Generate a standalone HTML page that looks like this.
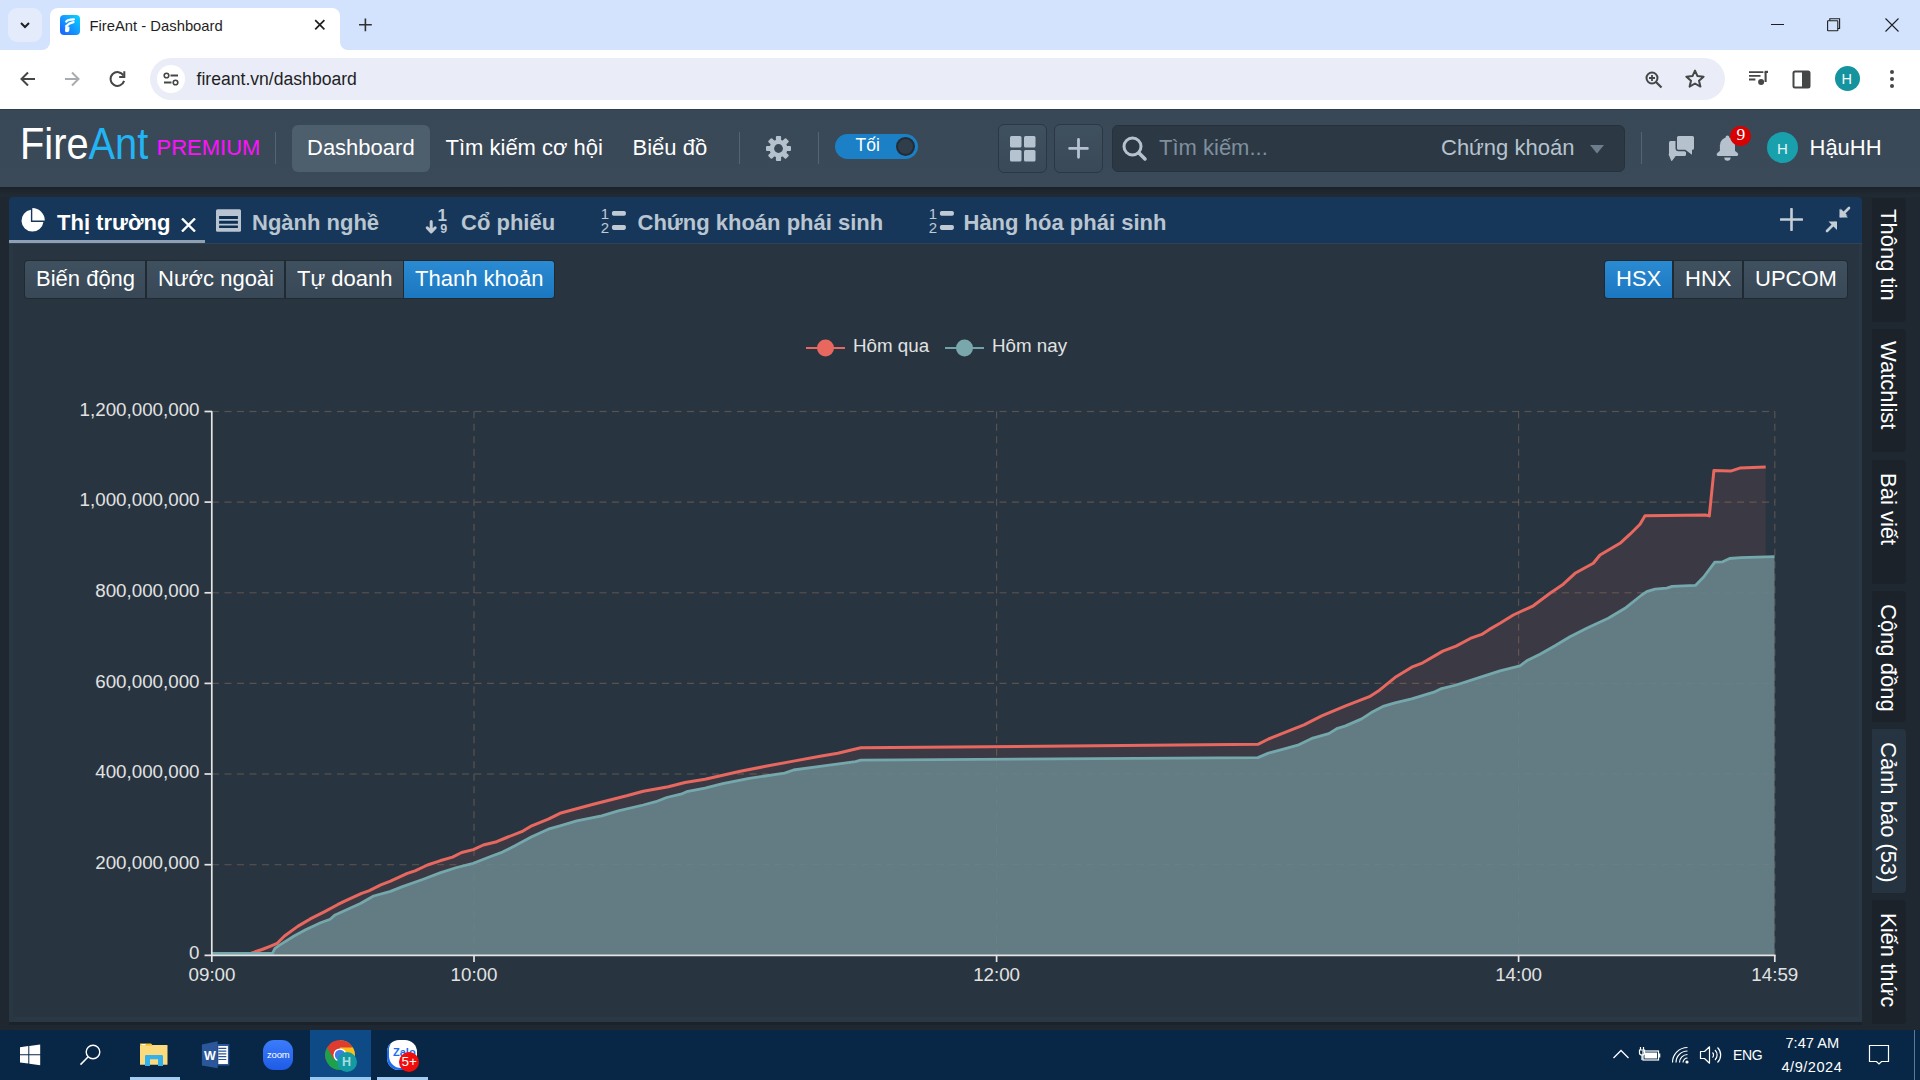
<!DOCTYPE html>
<html><head><meta charset="utf-8">
<style>
*{margin:0;padding:0;box-sizing:border-box}
html,body{width:1920px;height:1080px;overflow:hidden;background:#1f2830;font-family:"Liberation Sans",sans-serif}
.a{position:absolute}
.t{position:absolute;white-space:nowrap;line-height:1}
#tabstrip{left:0;top:0;width:1920px;height:50px;background:#d3e3fd}
#toolbar{left:0;top:50px;width:1920px;height:59px;background:#fff}
#hdr{left:0;top:109px;width:1920px;height:78px;background:linear-gradient(#394856,#3b4a58)}
#taskbar{left:0;top:1030px;width:1920px;height:50px;background:#082746}
</style></head><body>
<!-- ============ CHROME TAB STRIP ============ -->
<div id="tabstrip" class="a"></div>
<!-- active tab -->
<div class="a" style="left:50px;top:8px;width:290px;height:44px;background:#fff;border-radius:8px 8px 0 0"></div>
<div class="a" style="left:42px;top:42px;width:8px;height:8px;background:#fff"></div>
<div class="a" style="left:34px;top:34px;width:16px;height:16px;background:#d3e3fd;border-radius:0 0 8px 0"></div>
<div class="a" style="left:340px;top:42px;width:8px;height:8px;background:#fff"></div>
<div class="a" style="left:340px;top:34px;width:16px;height:16px;background:#d3e3fd;border-radius:0 0 0 8px"></div>
<div class="a" style="left:8px;top:8px;width:34px;height:34px;border-radius:9px;background:#e4ecfb"></div>
<svg class="a" style="left:17px;top:17px" width="16" height="16" viewBox="0 0 16 16"><path d="M4 6l4 4 4-4" fill="none" stroke="#1f1f1f" stroke-width="2"/></svg>
<!-- favicon -->
<div class="a" style="left:60px;top:15px;width:20px;height:20px;border-radius:4px;background:linear-gradient(45deg,#1a6dff 15%,#12a6ff 60%,#05d6ff)"></div>
<svg class="a" style="left:60px;top:15px" width="20" height="20" viewBox="0 0 20 20"><g fill="none" stroke="#fff" stroke-linecap="round" stroke-width="2.1"><path d="M6.2,6.6 Q7.5,4.6 14,4.4"/><path d="M6.4,11 Q9,7.9 13.6,7.1"/><path d="M6.4,11 L6.1,15.9 Q7.2,16.4 8.2,15.5 L8.4,12.6"/></g></svg>
<div class="t" style="left:89.5px;top:19px;font-size:14.8px;color:#1f1f1f">FireAnt - Dashboard</div>
<svg class="a" style="left:313px;top:18px" width="14" height="14" viewBox="0 0 14 14"><path d="M2.2 2.2L11.4 11.4M11.4 2.2L2.2 11.4" stroke="#1f1f1f" stroke-width="1.7"/></svg>
<svg class="a" style="left:357px;top:17px" width="16" height="16" viewBox="0 0 16 16"><path d="M8.4 1.5V14.2M2 7.8H14.8" stroke="#303030" stroke-width="1.6"/></svg>
<!-- window controls -->
<div class="a" style="left:1771px;top:24px;width:13px;height:1px;background:#1f1f1f"></div>
<svg class="a" style="left:1825px;top:16px" width="16" height="16" viewBox="0 0 16 16"><rect x="2.6" y="4.8" width="10.2" height="10" rx="0.5" fill="none" stroke="#1f1f1f" stroke-width="1.1"/><path d="M4.8 4.8V2.7H14.6V12.5H12.8" fill="none" stroke="#1f1f1f" stroke-width="1.1"/></svg>
<svg class="a" style="left:1884.5px;top:17.7px" width="14" height="14" viewBox="0 0 14 14"><path d="M0.5 0.5L13.5 13.5M13.5 0.5L0.5 13.5" stroke="#1f1f1f" stroke-width="1.1"/></svg>

<!-- ============ CHROME TOOLBAR ============ -->
<div id="toolbar" class="a"></div>
<svg class="a" style="left:19px;top:70px" width="18" height="18" viewBox="0 0 18 18"><path d="M16 9H3M9 2.5L2.5 9L9 15.5" fill="none" stroke="#444746" stroke-width="2"/></svg>
<svg class="a" style="left:63px;top:70px" width="18" height="18" viewBox="0 0 18 18"><path d="M2 9H15M9 2.5L15.5 9L9 15.5" fill="none" stroke="#a9acaf" stroke-width="2"/></svg>
<svg class="a" style="left:108px;top:70px" width="18" height="18" viewBox="0 0 18 18"><path d="M16.1,10.9 A6.9,6.9 0 1 1 15.5,5.6" fill="none" stroke="#444746" stroke-width="2"/><path d="M16.3,1.3V6.9H11.2" fill="none" stroke="#444746" stroke-width="2"/></svg>
<div class="a" style="left:150px;top:58px;width:1575px;height:42px;border-radius:21px;background:#eaedf8"></div>
<div class="a" style="left:157px;top:65px;width:28px;height:28px;border-radius:14px;background:#fff"></div>
<svg class="a" style="left:163px;top:71px" width="16" height="16" viewBox="0 0 16 16"><circle cx="3.5" cy="4.5" r="2.3" fill="none" stroke="#444746" stroke-width="1.6"/><path d="M7.5 4.5H15" stroke="#444746" stroke-width="2"/><circle cx="12.5" cy="11.5" r="2.3" fill="none" stroke="#444746" stroke-width="1.6"/><path d="M1 11.5H8.5" stroke="#444746" stroke-width="2"/></svg>
<div class="t" style="left:196.5px;top:71.3px;font-size:17.6px;color:#1f1f1f">fireant.vn/dashboard</div>
<svg class="a" style="left:1644px;top:69.5px" width="20" height="20" viewBox="0 0 20 20"><circle cx="8" cy="8" r="5.5" fill="none" stroke="#444746" stroke-width="2"/><path d="M12 12L17.5 17.5" stroke="#444746" stroke-width="2.2"/><path d="M8 5V11M5 8H11" stroke="#444746" stroke-width="1.8"/></svg>
<svg class="a" style="left:1685px;top:69px" width="20" height="20" viewBox="0 0 20 20"><path d="M10 1.6L12.5 7.1L18.6 7.7L14 11.7L15.4 17.6L10 14.5L4.6 17.6L6 11.7L1.4 7.7L7.5 7.1Z" fill="none" stroke="#444746" stroke-width="2" stroke-linejoin="round"/></svg>
<svg class="a" style="left:1748px;top:70px" width="21" height="16" viewBox="0 0 21 16"><path d="M1 2.1H15.4M1 5.9H12.5M1 9.5H7.4" stroke="#444746" stroke-width="1.9"/><path d="M17.6 2V12" stroke="#444746" stroke-width="2.1"/><path d="M16.6 1.9H20" stroke="#444746" stroke-width="2.2"/><circle cx="13.1" cy="12" r="3" fill="#444746"/></svg>
<svg class="a" style="left:1792px;top:70px" width="20" height="20" viewBox="0 0 20 20"><rect x="1.5" y="1.5" width="16" height="16" rx="1.5" fill="none" stroke="#444746" stroke-width="2"/><rect x="10" y="1.5" width="7.5" height="16" fill="#444746"/></svg>
<div class="a" style="left:1835px;top:66px;width:25px;height:25px;border-radius:50%;background:#15939f"></div>
<div class="t" style="left:1841.5px;top:71.5px;font-size:14.5px;color:#f4fbfc">H</div>
<svg class="a" style="left:1888px;top:69px" width="8" height="20" viewBox="0 0 8 20"><circle cx="4" cy="3" r="2" fill="#444746"/><circle cx="4" cy="10" r="2" fill="#444746"/><circle cx="4" cy="17" r="2" fill="#444746"/></svg>

<!-- ============ APP HEADER ============ -->
<div id="hdr" class="a"></div>
<div class="a" style="left:0;top:109px;width:1920px;height:1px;background:#303d4a"></div>
<div class="a" style="left:0;top:187px;width:1920px;height:10px;background:linear-gradient(#1b2229,#222b34)"></div>
<div class="t" style="left:20px;top:122.8px;font-size:43.5px;color:#fff;transform-origin:0 0;transform:scaleX(0.915)">Fire<span style="color:#22b5f6">Ant</span></div>
<div class="t" style="left:156.5px;top:136.6px;font-size:22px;color:#ff10ff">PREMIUM</div>
<div class="a" style="left:275px;top:132px;width:1px;height:32px;background:#56646f"></div>
<div class="a" style="left:292px;top:125px;width:138px;height:47px;border-radius:6px;background:#4d5e6d"></div>
<div class="t" style="left:307px;top:136.7px;font-size:22px;color:#fff">Dashboard</div>
<div class="t" style="left:445.5px;top:136.7px;font-size:22px;color:#fff">Tìm kiếm cơ hội</div>
<div class="t" style="left:632.5px;top:136.7px;font-size:22px;color:#fff">Biểu đồ</div>
<div class="a" style="left:739px;top:132px;width:1px;height:32px;background:#56646f"></div>
<svg class="a" style="left:765px;top:135px" width="27" height="27" viewBox="-13.5 -13.5 27 27"><g fill="#b5c1cc"><circle r="9"/><rect x="-2.6" y="-12.5" width="5.2" height="6" rx="1" transform="rotate(0)"/><rect x="-2.6" y="-12.5" width="5.2" height="6" rx="1" transform="rotate(45)"/><rect x="-2.6" y="-12.5" width="5.2" height="6" rx="1" transform="rotate(90)"/><rect x="-2.6" y="-12.5" width="5.2" height="6" rx="1" transform="rotate(135)"/><rect x="-2.6" y="-12.5" width="5.2" height="6" rx="1" transform="rotate(180)"/><rect x="-2.6" y="-12.5" width="5.2" height="6" rx="1" transform="rotate(225)"/><rect x="-2.6" y="-12.5" width="5.2" height="6" rx="1" transform="rotate(270)"/><rect x="-2.6" y="-12.5" width="5.2" height="6" rx="1" transform="rotate(315)"/></g><circle r="4.4" fill="#394856"/></svg>
<div class="a" style="left:818px;top:132px;width:1px;height:32px;background:#56646f"></div>
<div class="a" style="left:835px;top:134px;width:83px;height:25px;border-radius:13px;background:#1b80c6"></div>
<div class="t" style="left:855.5px;top:137px;font-size:17.5px;color:#fff">Tối</div>
<div class="a" style="left:896px;top:137px;width:19px;height:19px;border-radius:50%;background:#303d4a;border:2px solid #222c35"></div>
<!-- grid & plus buttons -->
<div class="a" style="left:998px;top:124px;width:49px;height:49px;border-radius:6px;background:linear-gradient(#3f505f,#3a4957);border:1px solid #2b3743"></div>
<svg class="a" style="left:1010px;top:136px" width="26" height="26" viewBox="0 0 26 26"><g fill="#b5c3d0"><rect x="0" y="0" width="11.5" height="11.5" rx="1.5"/><rect x="14" y="0" width="11.5" height="11.5" rx="1.5"/><rect x="0" y="14" width="11.5" height="11.5" rx="1.5"/><rect x="14" y="14" width="11.5" height="11.5" rx="1.5"/></g></svg>
<div class="a" style="left:1054px;top:124px;width:49px;height:49px;border-radius:6px;background:linear-gradient(#3f505f,#3a4957);border:1px solid #2b3743"></div>
<svg class="a" style="left:1068px;top:138px" width="21" height="21" viewBox="0 0 21 21"><path d="M10.5 1.5V19.3M1.6 10.4H19.4" stroke="#b5c3d0" stroke-width="2.8" stroke-linecap="round"/></svg>
<!-- search -->
<div class="a" style="left:1112px;top:125px;width:513px;height:47px;border-radius:6px;background:#2c3944;border:1px solid #26313b"></div>
<svg class="a" style="left:1120px;top:134px" width="30" height="30" viewBox="0 0 30 30"><circle cx="12.5" cy="12.5" r="8.5" fill="none" stroke="#b5c3d0" stroke-width="3"/><path d="M19 19L25 25" stroke="#b5c3d0" stroke-width="3.5" stroke-linecap="round"/></svg>
<div class="t" style="left:1159px;top:136.5px;font-size:22px;color:#7f8f9e">Tìm kiếm...</div>
<div class="t" style="left:1441px;top:136.5px;font-size:22px;color:#b6c3cf">Chứng khoán</div>
<svg class="a" style="left:1590px;top:145px" width="15" height="9" viewBox="0 0 15 9"><path d="M0 0H14L7 8.5Z" fill="#6c7d8c"/></svg>
<div class="a" style="left:1641px;top:132px;width:1px;height:32px;background:#56646f"></div>
<!-- comments icon -->
<svg class="a" style="left:1664px;top:130px" width="36" height="36" viewBox="0 0 36 36"><rect x="5" y="11" width="17" height="15" rx="1.5" fill="#b5c1cc"/><path d="M5,24 L7.7,30.7 L12.7,24 Z" fill="#b5c1cc" stroke="#b5c1cc" stroke-width="1" stroke-linejoin="round"/><path d="M14.5,6 H28.5 Q30,6 30,7.5 V18.2 Q30,19.7 28.5,19.7 H28 V24.7 L21.3,19.7 H14.5 Q13,19.7 13,18.2 V7.5 Q13,6 14.5,6 Z" fill="#b5c1cc" stroke="#394856" stroke-width="3" paint-order="stroke" stroke-linejoin="round"/></svg>
<!-- bell -->
<svg class="a" style="left:1714px;top:134px" width="26" height="28" viewBox="0 0 26 28"><g fill="#b5c1cc"><circle cx="13.45" cy="3.4" r="1.9"/><path d="M5.9,18 V11.2 A7.55,7.6 0 0 1 21,11.2 V18 Z"/><path d="M6,16.8 L3,19.3 H23.9 L20.9,16.8 Z"/><rect x="2.7" y="18.9" width="21.5" height="3" rx="1.3"/><path d="M10.3,23.4 H16.6 A3.15,3.3 0 0 1 10.3,23.4 Z"/></g></svg>
<div class="a" style="left:1730.3px;top:125.6px;width:20.6px;height:20.6px;border-radius:50%;background:#d80000"></div>
<div class="t" style="left:1736.6px;top:126.3px;font-size:17.5px;color:#fff;font-family:'Liberation Serif',serif">9</div>
<!-- avatar -->
<div class="a" style="left:1767px;top:132px;width:31px;height:31px;border-radius:50%;background:#18a0ad"></div>
<div class="t" style="left:1777px;top:141px;font-size:15px;color:#e8f4f6">H</div>
<div class="t" style="left:1809.5px;top:136.7px;font-size:22px;color:#fff">HậuHH</div>

<!-- ============ TABS PANEL ============ -->
<div class="a" style="left:9px;top:197px;width:1853px;height:47px;border-radius:4px 4px 0 0;background:#16375a"></div>
<div class="a" style="left:9px;top:240px;width:196px;height:3px;background:#8fa1b1"></div>
<svg class="a" style="left:21px;top:208px;overflow:visible" width="24" height="24" viewBox="0 0 24 24"><path d="M9.9,14 H22.41 A11,11 0 1 1 9.9,1.72 Z" fill="#fff"/><path d="M11.3,12.5 V0 A12.5,12.5 0 0 1 23.8,12.5 Z" fill="#fff"/></svg>
<div class="t" style="left:57px;top:211.5px;font-size:22px;font-weight:bold;color:#fff">Thị trường</div>
<svg class="a" style="left:181px;top:218px" width="15" height="14" viewBox="0 0 15 14"><path d="M1 0.5L14 13.5M14 0.5L1 13.5" stroke="#fff" stroke-width="2.4"/></svg>
<svg class="a" style="left:216px;top:209px" width="25" height="23" viewBox="0 0 25 23"><rect x="0" y="0.3" width="25" height="22.4" rx="1.5" fill="#b8c4d0"/><path d="M3.1 7h18.8v2.9H3.1zM3.1 11.8h18.8v2.9H3.1zM3.1 16.4h18.8v2.7H3.1z" fill="#0e2f52"/></svg>
<div class="t" style="left:252px;top:211.5px;font-size:22px;font-weight:bold;color:#b9c5d1">Ngành nghề</div>
<svg class="a" style="left:424px;top:205px" width="26" height="30" viewBox="0 0 26 30"><path d="M7.2 16.5V26.5M3.2 22.8L7.2 27L11.2 22.8" fill="none" stroke="#c0cad4" stroke-width="3" stroke-linecap="round" stroke-linejoin="round"/><text x="18.3" y="15.7" style="font:bold 17px 'Liberation Sans'" fill="#c0cad4" text-anchor="middle">1</text><text x="19.8" y="27.8" style="font:bold 12.5px 'Liberation Sans'" fill="#c0cad4" text-anchor="middle">9</text></svg>
<div class="t" style="left:461px;top:211.5px;font-size:22px;font-weight:bold;color:#b9c5d1">Cổ phiếu</div>
<svg class="a" style="left:600px;top:207px" width="27" height="28" viewBox="0 0 27 28"><text x="5" y="11.9" style="font:15px 'Liberation Sans'" fill="#c0cad4" text-anchor="middle">1</text><text x="5" y="26" style="font:15px 'Liberation Sans'" fill="#c0cad4" text-anchor="middle">2</text><rect x="11.9" y="3.9" width="14" height="4.9" rx="1.8" fill="#c0cad4"/><rect x="11.9" y="18" width="14" height="4.9" rx="1.8" fill="#c0cad4"/></svg>
<div class="t" style="left:637.5px;top:211.5px;font-size:22px;font-weight:bold;color:#b9c5d1">Chứng khoán phái sinh</div>
<svg class="a" style="left:927.5px;top:207px" width="27" height="28" viewBox="0 0 27 28"><text x="5" y="11.9" style="font:15px 'Liberation Sans'" fill="#c0cad4" text-anchor="middle">1</text><text x="5" y="26" style="font:15px 'Liberation Sans'" fill="#c0cad4" text-anchor="middle">2</text><rect x="11.9" y="3.9" width="14" height="4.9" rx="1.8" fill="#c0cad4"/><rect x="11.9" y="18" width="14" height="4.9" rx="1.8" fill="#c0cad4"/></svg>
<div class="t" style="left:963.5px;top:211.5px;font-size:22px;font-weight:bold;color:#b9c5d1">Hàng hóa phái sinh</div>
<svg class="a" style="left:1780px;top:208px" width="23" height="23" viewBox="0 0 23 23"><path d="M11.5 1V22M1 11.5H22" stroke="#c5ced7" stroke-width="2.6" stroke-linecap="round"/></svg>
<svg class="a" style="left:1825px;top:206px" width="27" height="27" viewBox="0 0 27 27"><g fill="none" stroke="#c5ced7" stroke-width="2.6" stroke-linecap="round"><path d="M24 2L16 10M10 17L2 25"/></g><g fill="#c5ced7"><path d="M10 8.5V15.5H17Z" transform="translate(5.5,-6)"/></g><path d="M14.5 3L14.5 11.5L23 11.5Z" fill="#c5ced7" transform="rotate(0)"/><path d="M3.5 15.5H12V24Z" fill="#c5ced7"/></svg>

<!-- ============ CONTENT PANEL ============ -->
<div class="a" style="left:9px;top:243px;width:1853px;height:1px;background:#2f4256"></div>
<div class="a" style="left:9px;top:244px;width:1853px;height:778px;background:#283541;border-left:4px solid #293744;border-right:3px solid #2a3845;border-bottom:5px solid #2a3744"></div>
<div class="a" style="left:9px;top:1022px;width:1853px;height:3px;background:#1b2229"></div>
<!-- sub buttons -->
<div class="a" style="left:24px;top:260px;width:531px;height:39px;border-radius:4px;background:#202a33"></div>
<div class="a" style="left:25px;top:261px;width:120px;height:37px;border-radius:3px 0 0 3px;background:linear-gradient(#3f505f,#394856)"></div>
<div class="a" style="left:147px;top:261px;width:137px;height:37px;background:linear-gradient(#3f505f,#394856)"></div>
<div class="a" style="left:286px;top:261px;width:117px;height:37px;background:linear-gradient(#3f505f,#394856)"></div>
<div class="a" style="left:404px;top:261px;width:150px;height:37px;border-radius:0 3px 3px 0;background:linear-gradient(#2a8ad2,#1b77c0)"></div>
<div class="t" style="left:36px;top:268px;font-size:22px;color:#fff">Biến động</div>
<div class="t" style="left:158px;top:268px;font-size:22px;color:#fff">Nước ngoài</div>
<div class="t" style="left:297px;top:268px;font-size:22px;color:#fff">Tự doanh</div>
<div class="t" style="left:415px;top:268px;font-size:22px;color:#fff">Thanh khoản</div>

<div class="a" style="left:1604px;top:260px;width:244px;height:39px;border-radius:4px;background:#202a33"></div>
<div class="a" style="left:1605px;top:261px;width:67px;height:37px;border-radius:3px 0 0 3px;background:linear-gradient(#2a8ad2,#1b77c0)"></div>
<div class="a" style="left:1674px;top:261px;width:68px;height:37px;background:linear-gradient(#3f505f,#394856)"></div>
<div class="a" style="left:1744px;top:261px;width:103px;height:37px;border-radius:0 3px 3px 0;background:linear-gradient(#3f505f,#394856)"></div>
<div class="t" style="left:1616px;top:268px;font-size:22px;color:#fff">HSX</div>
<div class="t" style="left:1685px;top:268px;font-size:22px;color:#fff">HNX</div>
<div class="t" style="left:1755px;top:268px;font-size:22px;color:#fff">UPCOM</div>

<!-- CHART -->
<svg id="chart" class="a" style="left:0;top:0" width="1920" height="1080" viewBox="0 0 1920 1080">
<style>.al{font:18.75px "Liberation Sans",sans-serif;fill:#e2e2e2}.lg{font:18.75px "Liberation Sans",sans-serif;fill:#e2e2e2}</style>
<path d="M212,411.5H1775" stroke="#b07440" stroke-opacity="0.32" stroke-width="1.1" stroke-dasharray="7,5.5" fill="none"/>
<path d="M212,502.1H1775" stroke="#b07440" stroke-opacity="0.32" stroke-width="1.1" stroke-dasharray="7,5.5" fill="none"/>
<path d="M212,592.8H1775" stroke="#b07440" stroke-opacity="0.32" stroke-width="1.1" stroke-dasharray="7,5.5" fill="none"/>
<path d="M212,683.4H1775" stroke="#b07440" stroke-opacity="0.32" stroke-width="1.1" stroke-dasharray="7,5.5" fill="none"/>
<path d="M212,774.0H1775" stroke="#b07440" stroke-opacity="0.32" stroke-width="1.1" stroke-dasharray="7,5.5" fill="none"/>
<path d="M212,864.7H1775" stroke="#b07440" stroke-opacity="0.32" stroke-width="1.1" stroke-dasharray="7,5.5" fill="none"/>
<path d="M474,411.3V955" stroke="#b07440" stroke-opacity="0.32" stroke-width="1.1" stroke-dasharray="7,5.5" fill="none"/>
<path d="M996.6,411.3V955" stroke="#b07440" stroke-opacity="0.32" stroke-width="1.1" stroke-dasharray="7,5.5" fill="none"/>
<path d="M1518.6,411.3V955" stroke="#b07440" stroke-opacity="0.32" stroke-width="1.1" stroke-dasharray="7,5.5" fill="none"/>
<path d="M1774.8,411.3V955" stroke="#b07440" stroke-opacity="0.32" stroke-width="1.1" stroke-dasharray="7,5.5" fill="none"/>
<path d="M212,953.3 L250.6,953.3 L262,949.5 L270,946.3 L277.2,943.3 L284.5,936 L297.7,926.4 L309.8,919.2 L324.2,911.9 L337.5,904.7 L344.7,901.1 L361.6,893.3 L368.8,890.8 L380.8,884.8 L390.5,881.2 L407.3,873.4 L415,870.8 L427.5,865 L440,860.8 L452.5,857.1 L461.7,852.5 L473.3,849.6 L483.3,845 L496.7,841.7 L506.7,837.5 L521.7,831.7 L531.7,825.8 L548.3,819.2 L560,813.3 L593.3,804.2 L626.7,795.8 L643.3,791.2 L668.3,786.7 L685,782.5 L705,779.3 L740.4,771.3 L767,766 L793.5,761.1 L820.1,756.2 L837.8,753.2 L860.8,747.8 L1257.9,744.3 L1268.5,739 L1295.1,728.3 L1304,724.8 L1321.7,715.9 L1345,706.1 L1369.4,696.7 L1378.3,691.1 L1396.1,676.7 L1411.7,667.2 L1422.8,662.8 L1442.8,651.1 L1456.1,646.1 L1471.7,637.8 L1481.7,634.4 L1489.4,629.4 L1500,623.3 L1513.3,615 L1533.3,605.8 L1550,593.3 L1563.3,584.2 L1575,573.3 L1593.3,563.3 L1600,555 L1620,543.3 L1630,534.2 L1640,524.2 L1645,515.8 L1705.6,515 L1709.3,515.9 L1713.9,470.6 L1730.6,471.1 L1739.8,468.1 L1765.7,466.9 L1765.7,955 L212,955 Z" fill="#e8675e" fill-opacity="0.1"/>
<path d="M212,953.3 L272.5,953.3 L274.8,948.7 L279.6,945.1 L294.1,936 L306.1,929.4 L320.6,922.8 L330.2,919.2 L335.1,914.9 L348.3,908.9 L360.4,903.5 L373.6,896 L390.5,891.4 L402.5,886.6 L423.3,879.2 L440,872.9 L456.7,867.5 L473.3,863.3 L490,856.7 L502.5,852.1 L515,845.8 L531.7,836.7 L548.3,829.2 L560,825.8 L576.7,820.8 L601.7,815.8 L618.3,810.8 L643.3,805 L655.8,801.7 L666.7,797.5 L680.8,794.2 L686.7,791.7 L705,788.1 L722.7,783.7 L749.3,778.4 L784.7,773.1 L793.5,770 L820.1,766.4 L855.5,761.6 L860.8,760.2 L1257.9,757.6 L1268.5,753.1 L1286.2,748.3 L1297.8,745.2 L1312.8,738.1 L1328.8,733.6 L1337.6,728.3 L1345,726.1 L1361.7,718.9 L1372.8,711.7 L1383.9,706.1 L1395,702.8 L1411.7,698.9 L1433.9,692.2 L1440.6,688.9 L1456.1,685 L1478.3,677.8 L1500,670.8 L1520,665.8 L1526.7,660.8 L1540,654.2 L1555,645.8 L1570,636.7 L1586.7,628.3 L1608.3,618.3 L1625,608.3 L1641.7,595 L1646.7,591.7 L1655,589.2 L1666.7,588.1 L1672.2,586.3 L1695.4,585.4 L1703.7,577 L1714.8,562.2 L1722.2,561.9 L1729.6,558.5 L1740.7,557.6 L1774.5,556.7 L1774.5,955 L212,955 Z" fill="#637b82"/>
<path d="M212,411.5H1775" stroke="#8aa0a5" stroke-opacity="0.12" stroke-width="1.3" stroke-dasharray="7,5.5" fill="none"/>
<path d="M212,502.1H1775" stroke="#8aa0a5" stroke-opacity="0.12" stroke-width="1.3" stroke-dasharray="7,5.5" fill="none"/>
<path d="M212,592.8H1775" stroke="#8aa0a5" stroke-opacity="0.12" stroke-width="1.3" stroke-dasharray="7,5.5" fill="none"/>
<path d="M212,683.4H1775" stroke="#8aa0a5" stroke-opacity="0.12" stroke-width="1.3" stroke-dasharray="7,5.5" fill="none"/>
<path d="M212,774.0H1775" stroke="#8aa0a5" stroke-opacity="0.12" stroke-width="1.3" stroke-dasharray="7,5.5" fill="none"/>
<path d="M212,864.7H1775" stroke="#8aa0a5" stroke-opacity="0.12" stroke-width="1.3" stroke-dasharray="7,5.5" fill="none"/>
<path d="M474,411.3V955" stroke="#8aa0a5" stroke-opacity="0.12" stroke-width="1.3" stroke-dasharray="7,5.5" fill="none"/>
<path d="M996.6,411.3V955" stroke="#8aa0a5" stroke-opacity="0.12" stroke-width="1.3" stroke-dasharray="7,5.5" fill="none"/>
<path d="M1518.6,411.3V955" stroke="#8aa0a5" stroke-opacity="0.12" stroke-width="1.3" stroke-dasharray="7,5.5" fill="none"/>
<path d="M1774.8,411.3V955" stroke="#8aa0a5" stroke-opacity="0.12" stroke-width="1.3" stroke-dasharray="7,5.5" fill="none"/>
<path d="M250.6,953.3 L262,949.5 L270,946.3 L277.2,943.3 L284.5,936 L297.7,926.4 L309.8,919.2 L324.2,911.9 L337.5,904.7 L344.7,901.1 L361.6,893.3 L368.8,890.8 L380.8,884.8 L390.5,881.2 L407.3,873.4 L415,870.8 L427.5,865 L440,860.8 L452.5,857.1 L461.7,852.5 L473.3,849.6 L483.3,845 L496.7,841.7 L506.7,837.5 L521.7,831.7 L531.7,825.8 L548.3,819.2 L560,813.3 L593.3,804.2 L626.7,795.8 L643.3,791.2 L668.3,786.7 L685,782.5 L705,779.3 L740.4,771.3 L767,766 L793.5,761.1 L820.1,756.2 L837.8,753.2 L860.8,747.8 L1257.9,744.3 L1268.5,739 L1295.1,728.3 L1304,724.8 L1321.7,715.9 L1345,706.1 L1369.4,696.7 L1378.3,691.1 L1396.1,676.7 L1411.7,667.2 L1422.8,662.8 L1442.8,651.1 L1456.1,646.1 L1471.7,637.8 L1481.7,634.4 L1489.4,629.4 L1500,623.3 L1513.3,615 L1533.3,605.8 L1550,593.3 L1563.3,584.2 L1575,573.3 L1593.3,563.3 L1600,555 L1620,543.3 L1630,534.2 L1640,524.2 L1645,515.8 L1705.6,515 L1709.3,515.9 L1713.9,470.6 L1730.6,471.1 L1739.8,468.1 L1765.7,466.9" fill="none" stroke="#e8685f" stroke-width="3" stroke-linejoin="round"/>
<path d="M212,953.3 L272.5,953.3 L274.8,948.7 L279.6,945.1 L294.1,936 L306.1,929.4 L320.6,922.8 L330.2,919.2 L335.1,914.9 L348.3,908.9 L360.4,903.5 L373.6,896 L390.5,891.4 L402.5,886.6 L423.3,879.2 L440,872.9 L456.7,867.5 L473.3,863.3 L490,856.7 L502.5,852.1 L515,845.8 L531.7,836.7 L548.3,829.2 L560,825.8 L576.7,820.8 L601.7,815.8 L618.3,810.8 L643.3,805 L655.8,801.7 L666.7,797.5 L680.8,794.2 L686.7,791.7 L705,788.1 L722.7,783.7 L749.3,778.4 L784.7,773.1 L793.5,770 L820.1,766.4 L855.5,761.6 L860.8,760.2 L1257.9,757.6 L1268.5,753.1 L1286.2,748.3 L1297.8,745.2 L1312.8,738.1 L1328.8,733.6 L1337.6,728.3 L1345,726.1 L1361.7,718.9 L1372.8,711.7 L1383.9,706.1 L1395,702.8 L1411.7,698.9 L1433.9,692.2 L1440.6,688.9 L1456.1,685 L1478.3,677.8 L1500,670.8 L1520,665.8 L1526.7,660.8 L1540,654.2 L1555,645.8 L1570,636.7 L1586.7,628.3 L1608.3,618.3 L1625,608.3 L1641.7,595 L1646.7,591.7 L1655,589.2 L1666.7,588.1 L1672.2,586.3 L1695.4,585.4 L1703.7,577 L1714.8,562.2 L1722.2,561.9 L1729.6,558.5 L1740.7,557.6 L1774.5,556.7" fill="none" stroke="#74a8ac" stroke-width="2.8" stroke-linejoin="round"/>
<path d="M211.8,411.3V962 M204.5,955.3H1775.5" stroke="#e4e4e4" stroke-width="1.7" fill="none"/>
<path d="M204.5,411.5H212" stroke="#e4e4e4" stroke-width="1.7"/>
<path d="M204.5,502.1H212" stroke="#e4e4e4" stroke-width="1.7"/>
<path d="M204.5,592.8H212" stroke="#e4e4e4" stroke-width="1.7"/>
<path d="M204.5,683.4H212" stroke="#e4e4e4" stroke-width="1.7"/>
<path d="M204.5,774.0H212" stroke="#e4e4e4" stroke-width="1.7"/>
<path d="M204.5,864.7H212" stroke="#e4e4e4" stroke-width="1.7"/>
<path d="M474,955V962" stroke="#e4e4e4" stroke-width="1.7"/>
<path d="M996.6,955V962" stroke="#e4e4e4" stroke-width="1.7"/>
<path d="M1518.6,955V962" stroke="#e4e4e4" stroke-width="1.7"/>
<path d="M1774.8,955V962" stroke="#e4e4e4" stroke-width="1.7"/>
<text x="199.5" y="415.7" text-anchor="end" class="al">1,200,000,000</text>
<text x="199.5" y="506.3" text-anchor="end" class="al">1,000,000,000</text>
<text x="199.5" y="597.0" text-anchor="end" class="al">800,000,000</text>
<text x="199.5" y="687.6" text-anchor="end" class="al">600,000,000</text>
<text x="199.5" y="778.2" text-anchor="end" class="al">400,000,000</text>
<text x="199.5" y="868.9" text-anchor="end" class="al">200,000,000</text>
<text x="199.5" y="958.9" text-anchor="end" class="al">0</text>
<text x="212" y="980.5" text-anchor="middle" class="al">09:00</text>
<text x="474" y="980.5" text-anchor="middle" class="al">10:00</text>
<text x="996.6" y="980.5" text-anchor="middle" class="al">12:00</text>
<text x="1518.6" y="980.5" text-anchor="middle" class="al">14:00</text>
<text x="1774.8" y="980.5" text-anchor="middle" class="al">14:59</text>
<path d="M806,348H845" stroke="#e8685f" stroke-width="2.2"/><circle cx="825.5" cy="348" r="8.5" fill="#e8685f"/>
<text x="853" y="352.3" class="lg">Hôm qua</text>
<path d="M945,348H984" stroke="#70a3a8" stroke-width="2.2"/><circle cx="964.5" cy="348" r="8.5" fill="#7aa7ab"/>
<text x="992" y="352.3" class="lg">Hôm nay</text>
</svg>

<!-- ============ RIGHT SIDEBAR ============ -->
<div class="a" style="left:1872px;top:198px;width:34px;height:124px;border-radius:0 4px 4px 0;background:#1b2229"></div>
<div class="a" style="left:1872px;top:329px;width:34px;height:123px;border-radius:0 4px 4px 0;background:#1b2229"></div>
<div class="a" style="left:1872px;top:460px;width:34px;height:124px;border-radius:0 4px 4px 0;background:#1b2229"></div>
<div class="a" style="left:1872px;top:591px;width:34px;height:131px;border-radius:0 4px 4px 0;background:#1b2229"></div>
<div class="a" style="left:1872px;top:729px;width:34px;height:164px;border-radius:0 4px 4px 0;background:#263340"></div>
<div class="a" style="left:1872px;top:900px;width:34px;height:124px;border-radius:0 4px 4px 0;background:#1b2229"></div>
<div class="t" style="left:1877px;top:209px;font-size:22px;color:#fff;transform-origin:0 0;transform:translate(22px,0) rotate(90deg)">Thông tin</div>
<div class="t" style="left:1877px;top:341px;font-size:22px;color:#fff;transform-origin:0 0;transform:translate(22px,0) rotate(90deg)">Watchlist</div>
<div class="t" style="left:1877px;top:473px;font-size:22px;color:#fff;transform-origin:0 0;transform:translate(22px,0) rotate(90deg)">Bài viết</div>
<div class="t" style="left:1877px;top:604px;font-size:22px;color:#fff;transform-origin:0 0;transform:translate(22px,0) rotate(90deg)">Cộng đồng</div>
<div class="t" style="left:1877px;top:742px;font-size:22px;color:#fff;transform-origin:0 0;transform:translate(22px,0) rotate(90deg)">Cảnh báo (53)</div>
<div class="t" style="left:1877px;top:913px;font-size:22px;color:#fff;transform-origin:0 0;transform:translate(22px,0) rotate(90deg)">Kiến thức</div>

<!-- ============ TASKBAR ============ -->
<div id="taskbar" class="a"></div>
<!-- start -->
<svg class="a" style="left:19px;top:1044px" width="22" height="22" viewBox="0 0 22 22"><g fill="#fff"><path d="M1 3.2L9.3 2.1V10.3H1Z"/><path d="M10.3 1.9L21.2 0.6V10.3H10.3Z"/><path d="M1 11.3H9.3V19.6L1 18.5Z"/><path d="M10.3 11.3H21.2V21.2L10.3 19.8Z"/></g></svg>
<!-- search -->
<svg class="a" style="left:78px;top:1042px" width="26" height="26" viewBox="0 0 26 26"><circle cx="15" cy="10" r="6.8" fill="none" stroke="#fff" stroke-width="1.4"/><path d="M10.2 14.8L2.5 22.6" stroke="#fff" stroke-width="1.5"/></svg>
<!-- explorer -->
<svg class="a" style="left:139px;top:1042px" width="30" height="26" viewBox="0 0 30 26"><path d="M1 1.5h11l2 2.2H1Z" fill="#f6c233"/><rect x="1" y="3" width="27.5" height="19.8" rx="0.5" fill="#fcdb7e"/><path d="M1 2.2h11.5l1.5 1.6H1Z" fill="#f5c02d"/><rect x="2.5" y="2" width="4" height="1.3" fill="#fff"/><path d="M6 24V14.3a1.3 1.3 0 0 1 1.3-1.3h15.4a1.3 1.3 0 0 1 1.3 1.3V24h-5V17.2h-8V24Z" fill="#32b1ec"/></svg>
<div class="a" style="left:130px;top:1077px;width:50px;height:3px;background:#a2cdf0"></div>
<!-- word -->
<svg class="a" style="left:201px;top:1040px" width="30" height="30" viewBox="0 0 30 30"><rect x="16.5" y="4" width="11.8" height="21.5" fill="#2b579a"/><rect x="17.3" y="6" width="9.6" height="18" fill="#fff"/><path d="M17.3 8.3h8M17.3 11.1h8M17.3 13.9h8M17.3 16.7h8M17.3 19.5h8" stroke="#2b579a" stroke-width="1.2"/><path d="M0.9 4.5L16.7 1.3V28.2L0.9 25.4Z" fill="#2b579a"/><text x="8.8" y="20.2" style="font:bold 12.5px 'Liberation Sans'" fill="#fff" text-anchor="middle">W</text></svg>
<!-- zoom -->
<div class="a" style="left:263px;top:1040px;width:30px;height:30px;border-radius:11px;background:linear-gradient(#3b7cfb,#1f5be6)"></div>
<div class="t" style="left:267px;top:1049.5px;font-size:9.5px;color:#fff;letter-spacing:-0.2px">zoom</div>
<!-- chrome (active) -->
<div class="a" style="left:310px;top:1030px;width:61px;height:47px;background:#0e4a85"></div>
<div class="a" style="left:310px;top:1077px;width:61px;height:3px;background:#99c8ee"></div>
<svg class="a" style="left:324px;top:1039px" width="32" height="32" viewBox="-16 -16 32 32"><path d="M0,-14.8 A14.8,14.8 0 0 1 12.82,7.4 L0,0Z" fill="#fbc116"/><path d="M0,-14.8 A14.8,14.8 0 0 0 -12.82,7.4 L0,0Z" fill="#de3c2f"/><path d="M-12.82,7.4 A14.8,14.8 0 0 0 12.82,7.4 L0,0Z" fill="#1fa14c"/><path d="M0,-14.8 A14.8,14.8 0 0 0 -12.82,-7.4 L-6.4,3.7 L0,-7.4Z" fill="#de3c2f"/><path d="M0,-7.4 L12.82,-7.4 A14.8,14.8 0 0 0 0,-14.8Z" fill="#de3c2f"/><path d="M12.82,-7.4 A14.8,14.8 0 0 1 1,14.8 L6.4,3.7Z" fill="#fbc116"/><path d="M-12.82,-7.4 L-6.4,3.7 L1,14.8 A14.8,14.8 0 0 1 -12.82,-7.4Z" fill="#1fa14c"/><circle r="6.6" fill="#fff"/><circle r="5.2" fill="#3f7ee8"/></svg>
<div class="a" style="left:337px;top:1052px;width:20px;height:20px;border-radius:50%;background:#139aa2"></div>
<div class="t" style="left:342px;top:1056px;font-size:12.5px;font-weight:bold;color:#a9dde0">H</div>
<!-- zalo -->
<div class="a" style="left:387px;top:1040px;width:30px;height:30px;border-radius:12px;background:#fff;box-shadow:inset 2px -2px 0 #1a6cf0"></div>
<div class="t" style="left:393px;top:1047px;font-size:11px;font-weight:bold;color:#1a6cf0">Zalo</div>
<div class="a" style="left:399px;top:1052px;width:20px;height:20px;border-radius:50%;background:#f20d0d"></div>
<div class="t" style="left:401.5px;top:1054.5px;font-size:13.5px;color:#fff">5+</div>
<div class="a" style="left:377px;top:1077px;width:51px;height:3px;background:#a2cdf0"></div>
<!-- tray -->
<svg class="a" style="left:1612px;top:1048px" width="18" height="12" viewBox="0 0 18 12"><path d="M1.5 10L9 2.5L16.5 10" fill="none" stroke="#fff" stroke-width="1.3"/></svg>
<svg class="a" style="left:1638px;top:1046px" width="24" height="17" viewBox="0 0 24 17"><path d="M2.5 1V4M5.5 1V4M1.5 4H6.5V7Q6.5 9 4 9Q1.5 9 1.5 7Z M4 9V14" fill="none" stroke="#fff" stroke-width="1.2"/><rect x="5" y="5" width="15.5" height="9" fill="none" stroke="#fff" stroke-width="1.2"/><rect x="6.5" y="6.5" width="12.5" height="6" fill="#fff"/><rect x="20.5" y="7.5" width="1.8" height="4" fill="#fff"/></svg>
<svg class="a" style="left:1671px;top:1046px" width="20" height="18" viewBox="0 0 20 18"><g fill="none" stroke="#fff" stroke-width="1.2"><path d="M1.5 16.5A15 15 0 0 1 16.5 1.5"/><path d="M5 16.5A11.5 11.5 0 0 1 16.5 5"/><path d="M8.5 16.5A8 8 0 0 1 16.5 8.5"/><path d="M12 16.5A4.5 4.5 0 0 1 16.5 12"/></g><circle cx="16" cy="16" r="1.6" fill="#fff"/></svg>
<svg class="a" style="left:1699px;top:1045px" width="23" height="20" viewBox="0 0 23 20"><path d="M1.5 6.5H5.5L10.5 1.8V18.2L5.5 13.5H1.5Z" fill="none" stroke="#fff" stroke-width="1.2" stroke-linejoin="round"/><path d="M13.5 7.5A3.5 3.5 0 0 1 13.5 12.5M16 5A7 7 0 0 1 16 15M18.5 2.5A10.5 10.5 0 0 1 18.5 17.5" fill="none" stroke="#fff" stroke-width="1.2"/></svg>
<div class="t" style="left:1733px;top:1048px;font-size:14px;color:#fff;letter-spacing:-0.4px">ENG</div>
<div class="t" style="left:1785.5px;top:1035.5px;font-size:14.6px;color:#fff">7:47 AM</div>
<div class="t" style="left:1781.5px;top:1059.5px;font-size:14.6px;color:#fff;letter-spacing:0.5px">4/9/2024</div>
<svg class="a" style="left:1868px;top:1044px" width="23" height="23" viewBox="0 0 23 23"><path d="M1.5 1.5H20.5V17.5H13.5L11 20L8.5 17.5H1.5Z" fill="none" stroke="#fff" stroke-width="1.2"/></svg>
<div class="a" style="left:1914px;top:1030px;width:1px;height:50px;background:#5d7896"></div>
</body></html>
